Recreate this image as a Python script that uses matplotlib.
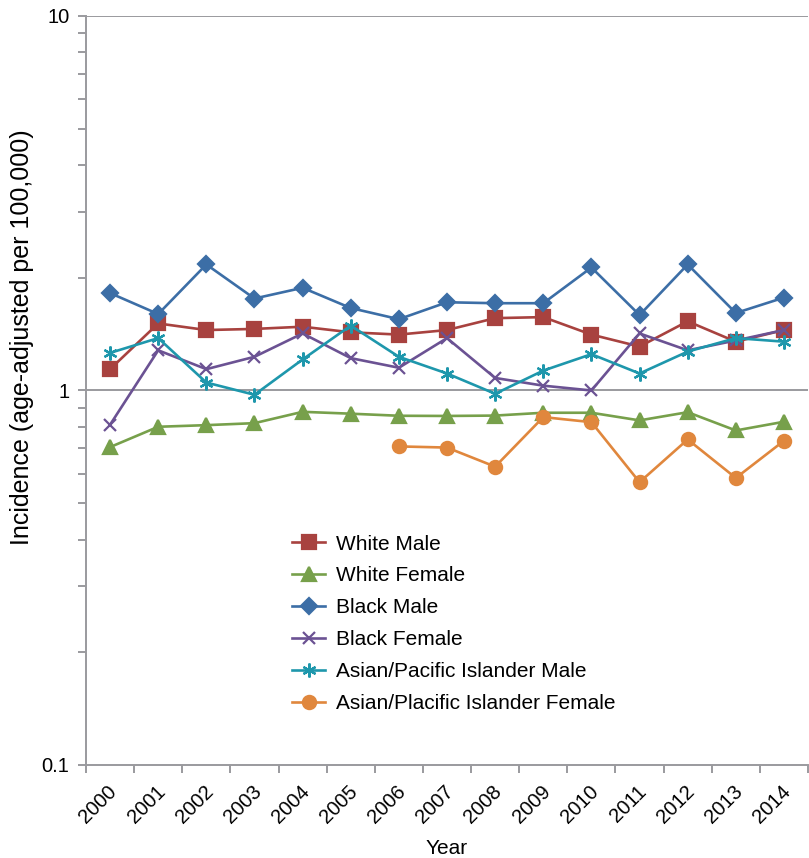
import matplotlib.pyplot as plt
import numpy as np
from matplotlib.ticker import FixedLocator, NullFormatter, FixedFormatter
from matplotlib.transforms import ScaledTranslation

plt.rcParams['font.family'] = ['Liberation Sans', 'DejaVu Sans']

years = ['2000', '2001', '2002', '2003', '2004', '2005', '2006', '2007',
         '2008', '2009', '2010', '2011', '2012', '2013', '2014']

white_male = [1.14, 1.51, 1.45, 1.46, 1.48, 1.43, 1.41, 1.45, 1.56, 1.57,
              1.41, 1.31, 1.53, 1.35, 1.45]
white_female = [0.706, 0.80, 0.808, 0.818, 0.877, 0.867, 0.856, 0.855, 0.857,
                0.872, 0.872, 0.832, 0.875, 0.782, 0.825]
black_male = [1.82, 1.60, 2.17, 1.76, 1.88, 1.66, 1.55, 1.72, 1.71, 1.71,
              2.13, 1.59, 2.17, 1.61, 1.77]
black_female = [0.81, 1.28, 1.14, 1.23, 1.42, 1.22, 1.15, 1.38, 1.08, 1.03,
                1.00, 1.42, 1.28, 1.36, 1.45]
api_male = [1.26, 1.38, 1.05, 0.974, 1.21, 1.49, 1.23, 1.11, 0.98, 1.13,
            1.25, 1.11, 1.27, 1.38, 1.35]
# Asian/Pacific Islander female rates start in 2006
api_female = [np.nan] * 6 + [0.709, 0.704, 0.626, 0.849, 0.823, 0.569, 0.740,
                             0.584, 0.734]

series = [
    ('White Male', white_male, '#A8423F', 's', 9.5),
    ('White Female', white_female, '#77A04B', '^', 9.5),
    ('Black Male', black_male, '#3C6EA6', 'D', 8),
    ('Black Female', black_female, '#6B5293', 'x', 9),
    ('Asian/Pacific Islander Male', api_male, '#1E97AC', (6, 2, 0), 10),
    ('Asian/Placific Islander Female', api_female, '#E0873D', 'o', 9.5),
]

fig = plt.figure(figsize=(8.09, 8.58), dpi=100)
ax = fig.add_axes([0.1063, 0.1084, 0.8925, 0.873])

x = np.arange(len(years))
handles = []
for label, vals, color, marker, ms in series:
    h, = ax.plot(x, vals, color=color, lw=1.9, marker=marker, markersize=ms,
                 markeredgecolor=color, markerfacecolor=color,
                 markeredgewidth=1.6, label=label, zorder=3)
    handles.append(h)

ax.set_yscale('log')
ax.set_ylim(0.1, 10)
ax.set_xlim(-0.5, len(years) - 0.5)

gray = '#9A9A9E'
for yv in (1, 10):
    ax.axhline(yv, color=gray, lw=1.4, zorder=1)

ax.yaxis.set_major_locator(FixedLocator([0.1, 1, 10]))
ax.yaxis.set_major_formatter(FixedFormatter(['0.1', '1', '10']))
ax.yaxis.set_minor_locator(FixedLocator(
    [m * d for d in (0.1, 1) for m in range(2, 10)]))
ax.yaxis.set_minor_formatter(NullFormatter())

# tick marks between categories, labels centred on categories
ax.xaxis.set_major_locator(FixedLocator(x))
ax.xaxis.set_major_formatter(FixedFormatter(years))
ax.xaxis.set_minor_locator(FixedLocator(np.arange(-0.5, len(years), 1)))
ax.tick_params(axis='x', which='major', length=0, pad=12, labelsize=14.5)
ax.tick_params(axis='x', which='minor', length=6, width=1.4, color=gray,
               direction='out')
ax.tick_params(axis='y', which='both', length=6, width=1.4, color=gray,
               direction='out', labelsize=14.5, pad=6)
shift = ScaledTranslation(-2 / 72, 0, fig.dpi_scale_trans)
for lbl in ax.get_xticklabels():
    lbl.set_rotation(45)
    lbl.set_ha('right')
    lbl.set_va('top')
    lbl.set_rotation_mode('anchor')
    lbl.set_transform(lbl.get_transform() + shift)

for side in ('top', 'right'):
    ax.spines[side].set_visible(False)
for side in ('left', 'bottom'):
    ax.spines[side].set_color(gray)
    ax.spines[side].set_linewidth(1.4)

ax.set_xlabel('Year', fontsize=15, labelpad=9)
ax.set_ylabel('Incidence (age-adjusted per 100,000)', fontsize=18)
ax.yaxis.set_label_coords(-0.072, 0.571)

ax.legend(handles=handles, loc='upper left', bbox_to_anchor=(0.361, 0.377),
          bbox_transform=fig.transFigure, frameon=False, fontsize=15,
          handlelength=1.6, labelspacing=0.62, handletextpad=0.5,
          borderpad=0, borderaxespad=0)

fig.savefig('out.png', dpi=100)
